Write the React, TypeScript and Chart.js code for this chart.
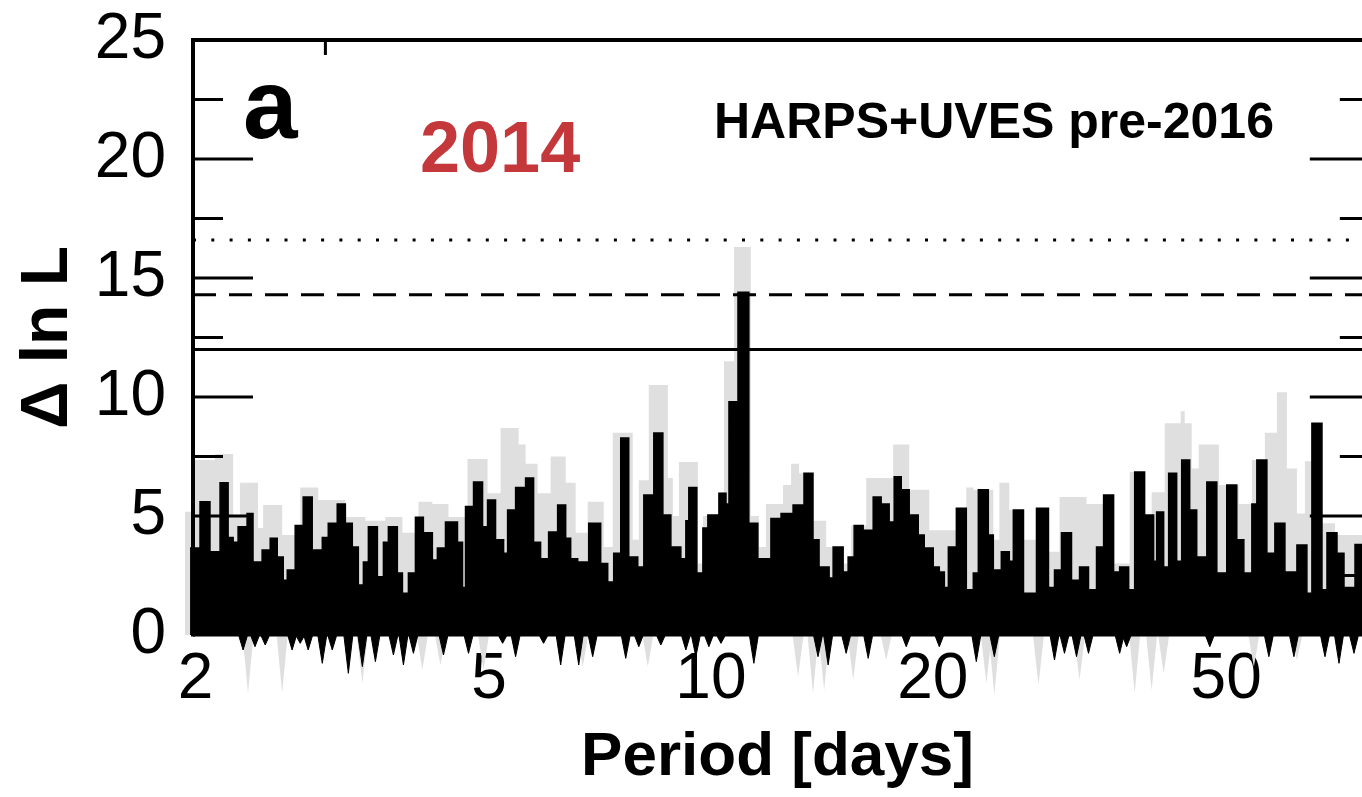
import { useEffect, useRef } from "react";
import { Chart, registerables } from "chart.js";

Chart.register(...registerables);

// ---------- axes ----------
const PERIOD_MIN = 1.984;
const PERIOD_MAX = 76.41;
const FRAME_RIGHT_PERIOD = 78.3;
const DELTA_MIN = 0;
const DELTA_MAX = 25;
const X_TICKS = [2, 5, 10, 20, 50];
const Y_TICKS = [0, 5, 10, 15, 20, 25];
const Y_MAJOR_INNER = [5, 10, 15, 20];
const Y_MINOR_INNER = [2.5, 7.5, 12.5, 17.5, 22.5];
const X_TOP_MINOR = [3];

// ---------- significance thresholds ----------
const THRESHOLD_SOLID = 12.0;
const THRESHOLD_DASHED = 14.3;
const THRESHOLD_DOTTED = 16.6;

// ---------- texts ----------
const X_TITLE = "Period [days]";
const Y_TITLE = "Δ ln L";
const LABEL_PANEL = "a";
const LABEL_YEAR = "2014";
const LABEL_DATA = "HARPS+UVES pre-2016";

// ---------- black periodogram (upper envelope, step starts) ----------
const blackPeriods = [
  1.966, 2.028, 2.092, 2.159, 2.214, 2.249, 2.284, 2.349, 2.393, 2.462,
  2.525, 2.581, 2.63, 2.663, 2.73, 2.799, 2.879, 2.971, 3.027, 3.113,
  3.193, 3.263, 3.325, 3.378, 3.431, 3.529, 3.596, 3.652, 3.756, 3.816,
  3.888, 3.974, 4.074, 4.19, 4.256, 4.365, 4.532, 4.604, 4.647, 4.765,
  4.901, 4.978, 5.104, 5.234, 5.3, 5.434, 5.606, 5.748, 5.875, 6.024,
  6.196, 6.354, 6.454, 6.597, 6.827, 7.088, 7.245, 7.382, 7.546, 7.737,
  7.958, 8.11, 8.367, 8.607, 8.825, 9.104, 9.248, 9.334, 9.571, 9.753,
  9.906, 10.254, 10.483, 10.581, 10.883, 11.258, 11.58, 12.062, 12.45, 12.926,
  13.375, 13.756, 14.019, 14.467, 14.649, 15.114, 15.352, 15.643, 16.09, 16.601,
  17.02, 17.451, 17.726, 18.12, 18.578, 19.109, 19.472, 20.027, 20.409, 20.734,
  20.994, 21.526, 22.205, 22.695, 23.054, 23.784, 24.159, 24.77, 25.397, 25.716,
  26.546, 27.646, 28.701, 29.245, 29.89, 30.841, 31.624, 32.523, 33.347, 34.093,
  35.174, 35.845, 36.867, 37.567, 38.752, 39.857, 40.233, 41.127, 41.773, 42.832,
  43.51, 44.611, 45.598, 47.062, 48.554, 50.089, 51.677, 52.83, 54.17, 55.02,
  56.773, 58.209, 60.061, 62.356, 64.331, 65.344, 67.43, 68.495, 70.667, 72.231,
  74.759, 76.41,
];
const blackValues = [
  3.66, 5.6, 3.5, 6.4, 4.1, 3.9, 4.55, 5.1, 3.07, 3.57,
  4.07, 3.28, 2.3, 2.73, 4.6, 5.8, 3.57, 4.1, 4.7, 5.5,
  4.7, 3.7, 2.1, 3.07, 4.55, 2.45, 3.9, 4.55, 2.6, 1.75,
  2.6, 4.95, 4.3, 3.15, 3.66, 4.75, 3.9, 2.0, 5.4, 6.43,
  4.55, 5.67, 4.0, 3.44, 5.25, 6.2, 6.6, 3.9, 3.2, 4.33,
  5.46, 4.07, 3.2, 3.07, 4.7, 3.0, 2.23, 3.44, 8.28, 3.28,
  2.86, 5.88, 8.49, 5.04, 3.7, 3.2, 4.8, 6.2, 2.6, 4.5,
  5.04, 5.96, 5.5, 9.8, 14.4, 4.7, 3.2, 4.9, 5.1, 5.46,
  6.8, 4.0, 2.86, 2.4, 3.7, 2.65, 3.28, 4.6, 4.4, 5.8,
  5.5, 4.75, 6.65, 6.1, 5.04, 4.2, 3.66, 2.86, 2.65, 2.0,
  3.7, 5.33, 1.9, 2.6, 6.1, 4.2, 2.73, 3.5, 3.1, 5.25,
  1.75, 5.33, 2.0, 2.73, 4.3, 2.3, 2.86, 1.9, 3.7, 5.88,
  2.65, 2.86, 1.9, 6.85, 5.04, 3.1, 5.17, 2.86, 6.8, 3.1,
  7.35, 5.25, 3.28, 6.43, 2.6, 6.3, 4.0, 2.6, 5.5, 7.35,
  3.44, 4.7, 2.65, 3.78, 1.75, 8.9, 1.9, 4.3, 3.44, 2.0,
  3.8, 3.8,
];

// ---------- grey periodogram (upper envelope, step starts) ----------
const grayPeriods = [
  1.935, 1.996, 2.125, 2.249, 2.298, 2.431, 2.47, 2.621, 2.773, 2.934,
  3.193, 3.399, 3.618, 3.816, 4.012, 4.19, 4.406, 4.676, 4.978, 5.185,
  5.486, 5.606, 5.82, 6.062, 6.354, 6.555, 6.806, 7.155, 7.359, 7.834,
  7.984, 8.237, 8.742, 8.88, 9.049, 9.601, 9.753, 10.254, 10.417, 10.748,
  11.329, 11.617, 11.875, 12.528, 12.846, 13.172, 13.756, 14.333, 14.928, 15.498,
  16.243, 17.67, 18.578, 19.778, 21.526, 22.205, 22.695, 24.159, 24.62, 25.397,
  26.546, 27.646, 28.701, 29.709, 32.323, 34.093, 35.174, 36.983, 38.752, 39.611,
  41.255, 43.375, 43.92, 44.894, 45.886, 48.86, 52.002, 54.17, 56.417, 58.573,
  60.44, 62.356, 63.927, 66.788, 70.228, 76.41,
];
const grayValues = [
  5.18, 7.35, 7.6, 5.0, 6.4, 4.5, 5.46, 4.2, 6.2, 5.67,
  4.96, 4.8, 4.96, 4.3, 5.6, 5.5, 4.96, 7.4, 5.96, 8.7,
  8.0, 7.2, 5.96, 7.5, 6.4, 4.3, 5.6, 3.7, 8.5, 4.0,
  6.5, 10.5, 6.6, 5.0, 7.27, 3.0, 5.0, 6.0, 11.5, 16.3,
  5.0, 3.7, 5.5, 6.3, 7.2, 6.8, 4.8, 3.7, 3.0, 4.6,
  6.6, 8.0, 6.1, 4.4, 5.33, 6.2, 6.1, 4.0, 6.4, 5.25,
  4.0, 5.33, 3.5, 5.8, 5.5, 5.88, 3.0, 6.85, 5.04, 6.0,
  8.9, 9.4, 8.9, 7.0, 8.0, 6.3, 5.5, 7.35, 8.5, 10.2,
  7.0, 5.1, 7.3, 4.7, 4.2, 4.2,
];

// ---------- downward excursions below zero ----------
const blackDipPeriods = [
  2.32, 2.408, 2.486, 2.704, 2.773, 2.843, 2.971, 3.065, 3.223, 3.367,
  3.507, 3.71, 3.828, 3.949, 4.338, 4.691, 5.218, 5.434, 5.93, 6.255,
  6.618, 6.913, 7.665, 7.984, 8.553, 9.248, 9.541, 9.937, 10.32, 11.436,
  13.973, 14.422, 15.257, 16.343, 18.406, 20.409, 22.909, 24.236, 29.245, 30.172,
  31.325, 32.523, 35.845, 36.64, 47.502, 57.125, 61.773, 68.066, 71.112, 74.522,
];
const blackDipValues = [
  -0.63, -0.49, -0.42, -0.63, -0.35, -0.63, -1.19, -0.63, -1.61, -1.33,
  -1.12, -0.84, -1.26, -0.77, -0.84, -0.77, -0.35, -0.91, -0.35, -1.26,
  -1.26, -0.91, -0.98, -0.49, -0.42, -0.63, -0.91, -0.49, -0.35, -1.19,
  -0.91, -1.26, -0.77, -0.98, -0.49, -0.49, -1.12, -0.91, -1.05, -0.77,
  -0.91, -0.77, -0.77, -0.49, -0.49, -0.91, -0.91, -0.91, -1.19, -0.77,
];
const grayDipPeriods = [
  2.356, 2.621, 3.367, 4.061, 4.297, 4.916, 6.701, 8.212, 13.13, 13.756,
  14.243, 15.594, 17.289, 23.638, 24.236, 27.82, 31.624, 37.567, 39.611, 41.127,
  54.505, 62.356,
];
const grayDipValues = [
  -2.45, -2.45, -2.03, -1.47, -1.26, -1.47, -1.33, -1.33, -1.75, -2.45,
  -2.31, -1.89, -1.05, -2.03, -2.52, -2.1, -1.89, -2.45, -2.31, -1.61,
  -1.33, -1.05,
];

// ---------- styles ----------
const FONT = "'Liberation Sans', Arial, Helvetica, sans-serif";
const GRAY = "#dfdfdf";
const RED = "rgb(196, 56, 60)";
const BLACK_DIP_HALF_DECADES = 4.5 / 736;
const GRAY_DIP_HALF_DECADES = 5.5 / 736;

type Pt = { x: number; y: number };

function stepPoints(periods: number[], values: number[]): Pt[] {
  return periods.map((p, i) => ({ x: p, y: values[i] }));
}

function dipPoints(periods: number[], values: number[], halfDecades: number): Pt[] {
  const k = Math.pow(10, halfDecades);
  const pts: Pt[] = [];
  periods.forEach((p, i) => {
    pts.push({ x: p / k, y: 0 }, { x: p, y: values[i] }, { x: p * k, y: 0 });
  });
  return pts;
}

function hLine(value: number): Pt[] {
  return [
    { x: PERIOD_MIN, y: value },
    { x: PERIOD_MAX, y: value },
  ];
}

const SPILL_BOTTOM = 90;
const SPILL_LEFT = 12;
const saved = { aBottom: 0, aLeft: 0, aWidth: 0, aHeight: 0, yBottom: 0, xLeft: 0 };

const framePlugin = {
  id: "periodogramFrame",
  beforeDatasetsDraw(chart: any) {
    // let the traces spill slightly beyond the frame, as in the original figure
    const a = chart.chartArea;
    const xs = chart.scales.x;
    const ys = chart.scales.y;
    saved.aBottom = a.bottom;
    saved.aLeft = a.left;
    saved.aWidth = a.width;
    saved.aHeight = a.height;
    saved.yBottom = ys.bottom;
    saved.xLeft = xs.left;
    a.bottom += SPILL_BOTTOM;
    a.height += SPILL_BOTTOM;
    a.left -= SPILL_LEFT;
    a.width += SPILL_LEFT;
    ys.bottom += SPILL_BOTTOM;
    xs.left -= SPILL_LEFT;
  },
  afterDatasetsDraw(chart: any) {
    const a = chart.chartArea;
    const xs = chart.scales.x;
    const ys = chart.scales.y;
    a.bottom = saved.aBottom;
    a.left = saved.aLeft;
    a.width = saved.aWidth;
    a.height = saved.aHeight;
    ys.bottom = saved.yBottom;
    xs.left = saved.xLeft;

    const ctx: CanvasRenderingContext2D = chart.ctx;
    const left = xs.getPixelForValue(PERIOD_MIN);
    const right = xs.getPixelForValue(FRAME_RIGHT_PERIOD);
    const top = ys.getPixelForValue(DELTA_MAX);
    const base = ys.getPixelForValue(DELTA_MIN);

    const seg = (x1: number, y1: number, x2: number, y2: number) => {
      ctx.beginPath();
      ctx.moveTo(x1, y1);
      ctx.lineTo(x2, y2);
      ctx.stroke();
    };

    ctx.save();
    ctx.strokeStyle = "#000";
    ctx.lineCap = "butt";
    ctx.lineWidth = 4;
    ctx.beginPath();
    ctx.moveTo(left, base + 1.5);
    ctx.lineTo(left, top);
    ctx.lineTo(right, top);
    ctx.lineTo(right, base);
    ctx.stroke();
    ctx.lineWidth = 3;
    seg(left, base, right, base);

    for (const v of Y_MAJOR_INNER) {
      const y = ys.getPixelForValue(v);
      seg(left, y, left + 60, y);
      seg(right - 60, y, right, y);
    }
    for (const v of Y_MINOR_INNER) {
      const y = ys.getPixelForValue(v);
      seg(left, y, left + 30, y);
      seg(right - 30, y, right, y);
    }
    for (const v of X_TOP_MINOR) {
      const x = xs.getPixelForValue(v);
      seg(x, top, x, top + 15);
    }

    ctx.textAlign = "left";
    ctx.textBaseline = "alphabetic";
    ctx.fillStyle = "#000";
    ctx.font = `bold 98px ${FONT}`;
    ctx.fillText(LABEL_PANEL, left + 50, top + 98);
    ctx.fillStyle = RED;
    ctx.font = `bold 72px ${FONT}`;
    ctx.fillText(LABEL_YEAR, left + 227, top + 132);
    ctx.fillStyle = "#000";
    ctx.font = `bold 50px ${FONT}`;
    ctx.fillText(LABEL_DATA, left + 521, top + 98);
    ctx.restore();
  },
};

export default function App() {
  const canvasRef = useRef<HTMLCanvasElement | null>(null);

  useEffect(() => {
    const canvas = canvasRef.current;
    if (!canvas) return;

    const common = { pointRadius: 0, pointHoverRadius: 0, tension: 0 };

    const chart = new Chart(canvas, {
      type: "line",
      data: {
        datasets: [
          {
            ...common,
            label: "dotted",
            data: hLine(THRESHOLD_DOTTED),
            borderColor: "#000",
            borderWidth: 3,
            borderDash: [3, 15.3],
            fill: false,
          },
          {
            ...common,
            label: "dashed",
            data: hLine(THRESHOLD_DASHED),
            borderColor: "#000",
            borderWidth: 3,
            borderDash: [23, 13],
            fill: false,
          },
          {
            ...common,
            label: "solid",
            data: hLine(THRESHOLD_SOLID),
            borderColor: "#000",
            borderWidth: 3,
            fill: false,
          },
          {
            ...common,
            label: "black",
            data: stepPoints(blackPeriods, blackValues),
            stepped: true,
            borderColor: "#000",
            backgroundColor: "#000",
            borderWidth: 1.5,
            fill: "origin",
          },
          {
            ...common,
            label: "black dips",
            data: dipPoints(blackDipPeriods, blackDipValues, BLACK_DIP_HALF_DECADES),
            borderColor: "#000",
            backgroundColor: "#000",
            borderWidth: 1,
            fill: "origin",
          },
          {
            ...common,
            label: "gray",
            data: stepPoints(grayPeriods, grayValues),
            stepped: true,
            borderColor: GRAY,
            backgroundColor: GRAY,
            borderWidth: 0,
            fill: "origin",
          },
          {
            ...common,
            label: "gray dips",
            data: dipPoints(grayDipPeriods, grayDipValues, GRAY_DIP_HALF_DECADES),
            borderColor: GRAY,
            backgroundColor: GRAY,
            borderWidth: 0,
            fill: "origin",
          },
        ],
      },
      options: {
        responsive: false,
        animation: false,
        devicePixelRatio: 1,
        events: [],
        layout: { padding: { top: 40, left: 0, right: 0, bottom: 0 } },
        plugins: {
          legend: { display: false },
          tooltip: { enabled: false },
        },
        scales: {
          x: {
            type: "logarithmic",
            position: "bottom",
            min: PERIOD_MIN,
            max: PERIOD_MAX,
            grid: { display: false, drawTicks: false },
            border: { display: false },
            afterBuildTicks: (s: any) => {
              s.ticks = X_TICKS.map((v) => ({ value: v }));
            },
            afterFit: (s: any) => {
              s.height = 162;
              s.paddingLeft = 0;
              s.paddingRight = 0;
              s.paddingTop = 0;
              s.paddingBottom = 0;
            },
            ticks: {
              autoSkip: false,
              maxRotation: 0,
              minRotation: 0,
              padding: 7,
              color: "#000",
              font: { family: FONT, size: 64 },
              callback: (v: any) => String(v),
            },
            title: {
              display: true,
              text: X_TITLE,
              color: "#000",
              font: { family: FONT, size: 62, weight: "bold" },
              padding: { top: 0, bottom: 2 },
            },
          },
          y: {
            type: "linear",
            position: "left",
            min: DELTA_MIN,
            max: DELTA_MAX,
            grid: { display: false, drawTicks: false },
            border: { display: false },
            afterBuildTicks: (s: any) => {
              s.ticks = Y_TICKS.map((v) => ({ value: v }));
            },
            afterFit: (s: any) => {
              s.width = 193;
              s.paddingTop = 0;
              s.paddingBottom = 0;
              s.paddingLeft = 0;
              s.paddingRight = 0;
            },
            ticks: {
              padding: 27,
              color: "#000",
              font: { family: FONT, size: 64 },
              callback: (v: any) => String(v),
            },
            title: {
              display: true,
              text: Y_TITLE,
              color: "#000",
              font: { family: FONT, size: 66, weight: "bold" },
              padding: { top: 9, bottom: 0 },
            },
          },
        },
      },
      plugins: [framePlugin],
    } as any);

    return () => chart.destroy();
  }, []);

  return (
    <div
      style={{
        position: "absolute",
        left: 0,
        top: 0,
        width: 1362,
        height: 797,
        background: "#fff",
      }}
    >
      <canvas ref={canvasRef} width={1362} height={797} />
    </div>
  );
}
